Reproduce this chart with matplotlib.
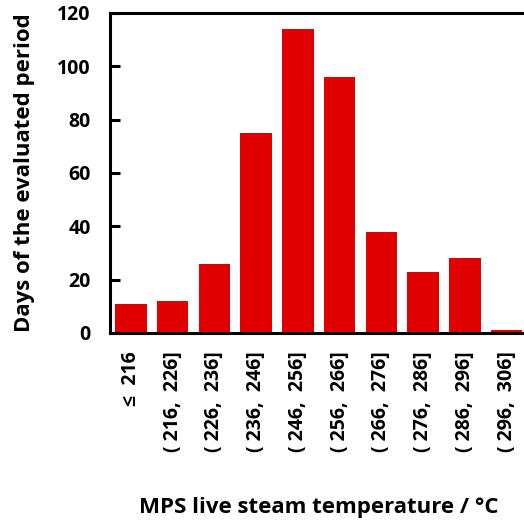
import matplotlib
matplotlib.use("Agg")
import matplotlib.pyplot as plt

categories = ["≤  216", "( 216,  226]", "( 226,  236]", "( 236,  246]", "( 246,  256]",
              "( 256,  266]", "( 266,  276]", "( 276,  286]", "( 286,  296]", "( 296,  306]"]
days = [11, 12, 26, 75, 114, 96, 38, 23, 28, 1]
yticks = [0, 20, 40, 60, 80, 100, 120]

plt.rcParams['font.family'] = ['Open Sans', 'DejaVu Sans']
plt.rcParams['font.weight'] = 'bold'

W, H = 524, 523
fig = plt.figure(figsize=(W / 100, H / 100), dpi=100)
left = 110 / W
right = 527.5 / W
bottom = 1 - 333 / H
top = 1 - 13 / H
ax = fig.add_axes([left, bottom, right - left, top - bottom])

x = list(range(len(categories)))
ax.bar(x, days, width=0.755, color="#E00000")
ax.set_xlim(-0.5, len(categories) - 0.5)
ax.set_ylim(0, 120)
ax.set_yticks(yticks)
ax.set_yticklabels([str(v) for v in yticks], fontsize=14, fontweight='bold')
ax.set_xticks(x)
ax.set_xticklabels(categories, rotation=90, fontsize=14, fontweight='bold', va='top', ha='center')
ax.tick_params(axis='x', length=0, pad=13)
ax.tick_params(axis='y', direction='in', length=7, width=2.2, pad=14)

for s in ['left', 'bottom', 'top']:
    ax.spines[s].set_linewidth(2.2)
ax.spines['right'].set_visible(False)

ax.set_ylabel("Days of the evaluated period", fontsize=16, fontweight='bold')
ax.yaxis.set_label_coords(-0.2036, 0.5)
ax.yaxis.label.set_va('center')
ax.yaxis.label.set_ha('center')

ax.set_xlabel("MPS live steam temperature / °C", fontsize=16, fontweight='bold')
ax.xaxis.set_label_coords(0.5, -0.5625)
ax.xaxis.label.set_va('baseline')

fig.savefig("out.png", dpi=100)
